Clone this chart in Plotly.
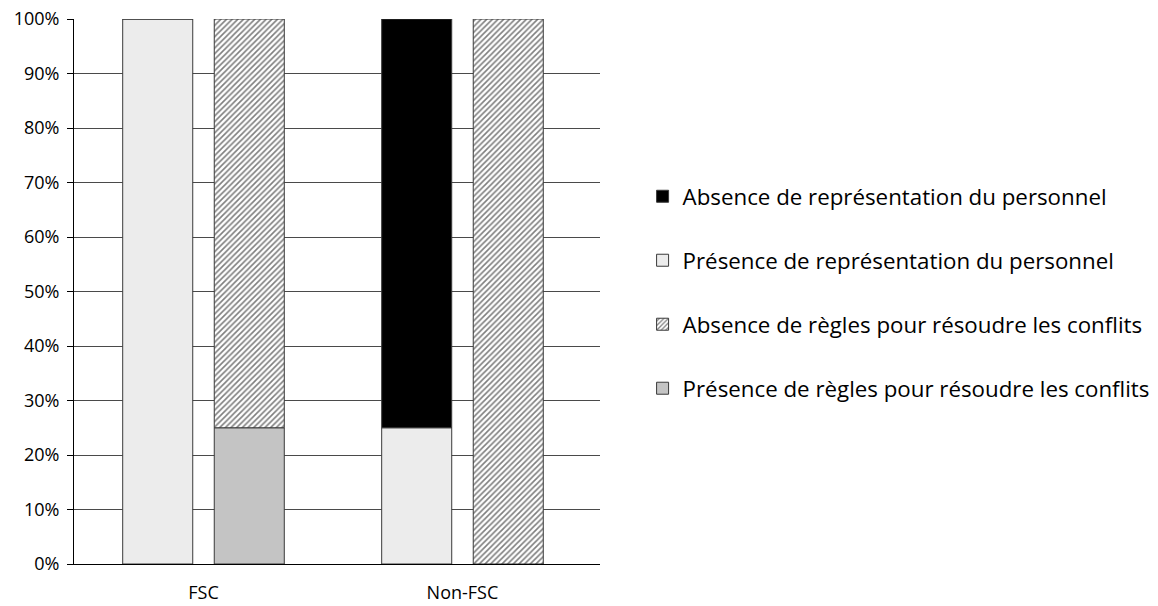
import plotly.graph_objects as go

categories = ["FSC", "Non-FSC"]
rep_presence = [100, 25]
rep_absence = [0, 75]
rules_presence = [25, 0]
rules_absence = [75, 100]
tick_vals = [0, 10, 20, 30, 40, 50, 60, 70, 80, 90, 100]
tick_text = ["0%", "10%", "20%", "30%", "40%", "50%", "60%", "70%", "80%", "90%", "100%"]

names = {
    "rep_abs": "Absence de représentation du personnel",
    "rep_pre": "Présence de représentation du personnel",
    "rul_abs": "Absence de règles pour résoudre les conflits",
    "rul_pre": "Présence de règles pour résoudre les conflits",
}

outline = dict(color="#3a3a3a", width=1)
fig = go.Figure()
fig.add_trace(go.Bar(x=categories, y=rep_presence, name=names["rep_pre"], offsetgroup="rep",
                     marker=dict(color="#ececec", line=outline), legendrank=2, legendgroup="b"))
fig.add_trace(go.Bar(x=categories, y=rep_absence, base=rep_presence, name=names["rep_abs"], offsetgroup="rep",
                     marker=dict(color="#000000", line=outline), legendrank=1, legendgroup="a"))
fig.add_trace(go.Bar(x=categories, y=rules_presence, name=names["rul_pre"], offsetgroup="rules",
                     marker=dict(color="#c4c4c4", line=outline), legendrank=4, legendgroup="d"))
fig.add_trace(go.Bar(x=categories, y=rules_absence, base=rules_presence, name=names["rul_abs"], offsetgroup="rules",
                     marker=dict(color="#ffffff", line=outline,
                                 pattern=dict(shape="/", fgcolor="#000000", bgcolor="#ffffff",
                                              size=4, solidity=0.4)),
                     legendrank=3, legendgroup="c"))

fig.update_layout(
    width=1158, height=606,
    margin=dict(l=66, r=566, t=11, b=50),
    paper_bgcolor="white", plot_bgcolor="white",
    barmode="group", bargap=0.293, bargroupgap=0.235,
    font=dict(family="Open Sans", size=18, color="black"),
    showlegend=True,
    legend=dict(xref="container", yref="container", x=0.548, y=0.724,
                xanchor="left", yanchor="top",
                font=dict(size=22.3), tracegroupgap=32, traceorder="grouped",
                bgcolor="rgba(0,0,0,0)"),
    xaxis=dict(range=[-0.5, 1.531], showgrid=False, showline=True, linecolor="#000000", linewidth=1,
               ticks="", ticklabelstandoff=12, tickfont=dict(size=18), automargin=False),
    yaxis=dict(range=[0, 100], tickvals=tick_vals, ticktext=tick_text, showgrid=True,
               gridcolor="#4a4a4a", gridwidth=1, showline=True, linecolor="#000000", linewidth=1,
               ticks="outside", ticklen=6, tickcolor="#000000", zeroline=False,
               ticklabelstandoff=4, tickfont=dict(size=18), automargin=False,
               ticklabeloverflow="allow"),
)

fig.write_html("out.html")
